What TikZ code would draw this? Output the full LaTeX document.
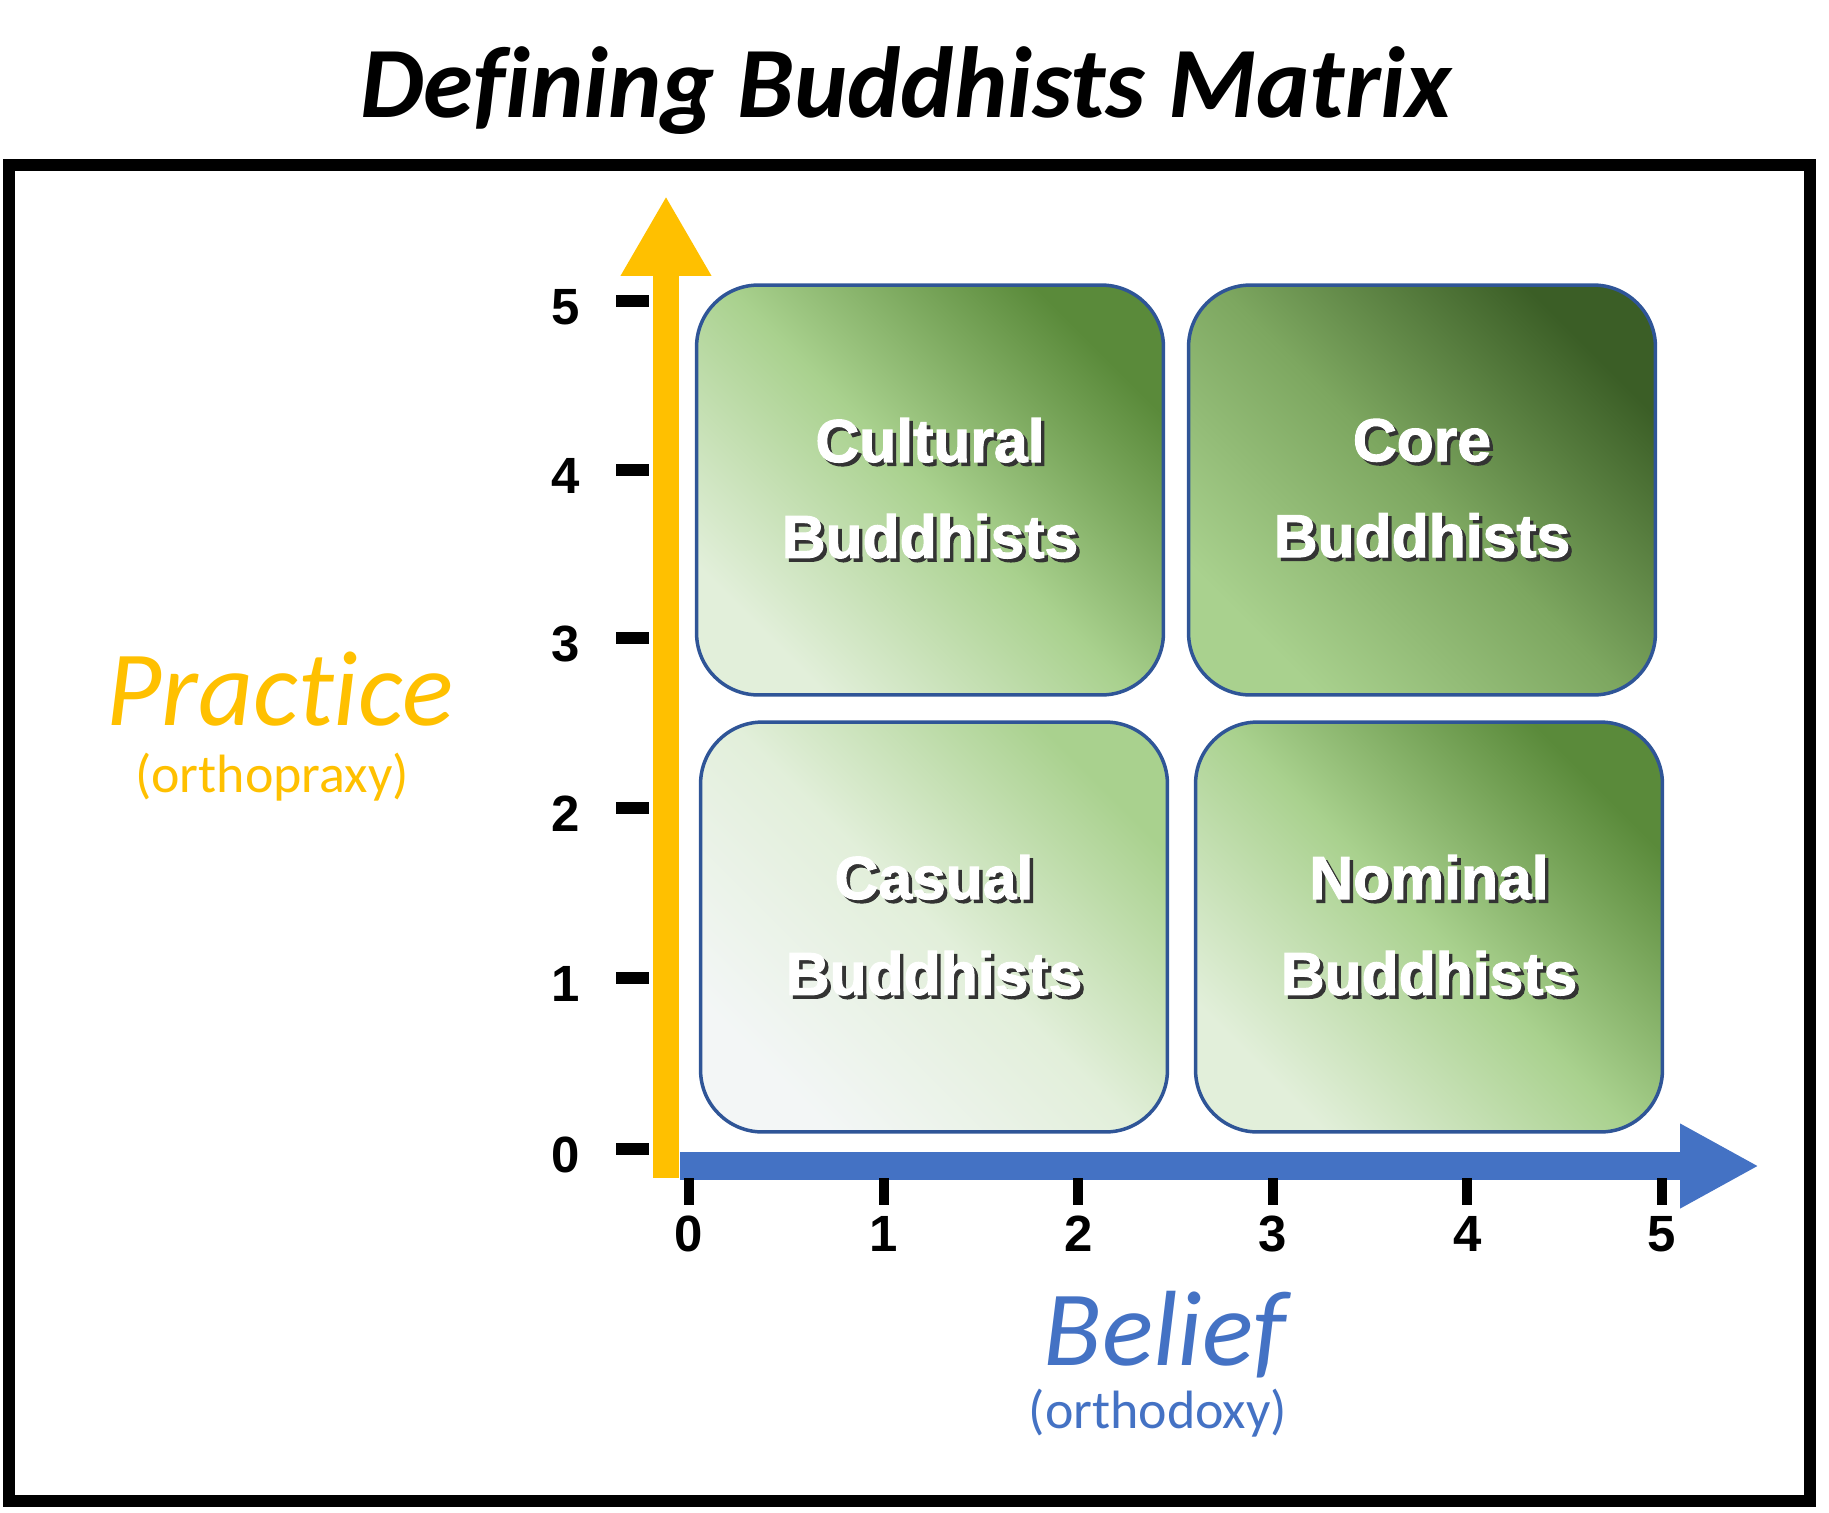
\documentclass[tikz,border=0pt]{standalone}
\usepackage{fontspec}
\setmainfont{Carlito}[Ligatures={NoCommon,NoContextual}]
\newfontfamily\numfont{Liberation Sans}
\newfontfamily\boxfont{Liberation Sans Bold}[FakeBold=1.8]
\usepackage{xcolor}
\usetikzlibrary{arrows.meta}

\definecolor{axyellow}{HTML}{FFC000}
\definecolor{axblue}{HTML}{4472C4}
\definecolor{qedge}{HTML}{2F5597}
\definecolor{gwhite}{HTML}{F3F6F6}
\definecolor{glight}{HTML}{E2EFDA}
\definecolor{gmid}{HTML}{A9D18E}
\definecolor{gmidd}{HTML}{7DA760}
\definecolor{gdark}{HTML}{5A8A3A}
\definecolor{gdeep}{HTML}{3B5E26}

% white box text with a dark drop shadow
\newcommand{\shadetext}[1]{\makebox[0pt][l]{\kern2pt\raisebox{-2pt}{\color{black!80}#1}}#1}

\begin{document}
\begin{tikzpicture}[
  x=0.02cm, y=-0.02cm,
  quad/.style={draw=qedge, line width=0.07cm, rounded corners=1.24cm, minimum width=9.34cm, minimum height=8.2cm,
    text=white, align=center, inner sep=0pt, font=\boxfont\fontsize{34.5}{54.6}\selectfont},
  qshade/.style n args={3}{bottom color=#1, top color=#3, middle color=#2, shading angle=-45},
  yarr/.style={-{Triangle[length=1.6cm, width=1.7cm]}, draw=axyellow, line width=0.52cm},
  xarr/.style={-{Triangle[length=1.58cm, width=1.58cm]}, draw=axblue, line width=0.56cm},
  tickbar/.style={line width=0.24cm},
  num/.style={font=\numfont\bfseries\fontsize{29}{29}\selectfont},
  axname/.style={anchor=base, font=\itshape\fontsize{60.9}{60.9}\selectfont},
  axsub/.style={anchor=base, font=\fontsize{30.7}{30.7}\selectfont}]
\useasboundingbox (0,0) rectangle (1829,1512);

% title and frame
\node[anchor=base, font=\bfseries\itshape\fontsize{57.5}{57.5}\selectfont] (title) at (906,117) {Defining Buddhists Matrix};
\draw[line width=0.24cm] (9,165) rectangle (1810,1501);

% the four quadrants
\node[quad, qshade={glight}{gmid}{gdark}] (cult) at (930,490) {\shadetext{Cultural}\\\shadetext{Buddhists}};
\node[quad, qshade={gmid}{gmidd}{gdeep}] (core) at (1422,490) {\shadetext{Core}\\\shadetext{Buddhists}};
\node[quad, qshade={gwhite}{glight}{gmid}] (casu) at (934,927) {\shadetext{Casual}\\\shadetext{Buddhists}};
\node[quad, qshade={glight}{gmid}{gdark}] (nomi) at (1429,927) {\shadetext{Nominal}\\\shadetext{Buddhists}};

% axes
\coordinate (yfoot) at (666,1178);
\coordinate (ytop) at (666,196);
\coordinate (xfoot) at (680,1166);
\coordinate (xend) at (1759,1166);
\draw[xarr] (xfoot) -- (xend);
\draw[yarr] (yfoot) -- (ytop);

% ticks and numbers
\foreach \v/\yy in {0/1149, 1/978, 2/808, 3/638, 4/470, 5/301} {
  \draw[tickbar] (616,\yy) -- (649,\yy);
  \node[num] (ty\v) at (566,\yy+6) {\v};
}
\foreach \v in {0,...,5} {
  \draw[line width=0.2cm] (689+194.6*\v,1178) -- (689+194.6*\v,1205);
  \node[num] (tx\v) at (689+194.6*\v,1234) {\v};
}

% axis names
\node[axname, text=axyellow] (prac) at (280,725) {Practice};
\node[axsub, text=axyellow] (praxy) at (272,792) {(orthopraxy)};
\node[axname, text=axblue] (beli) at (1165,1365) {Belief};
\node[axsub, text=axblue] (doxy) at (1158,1428) {(orthodoxy)};
\end{tikzpicture}
\end{document}
